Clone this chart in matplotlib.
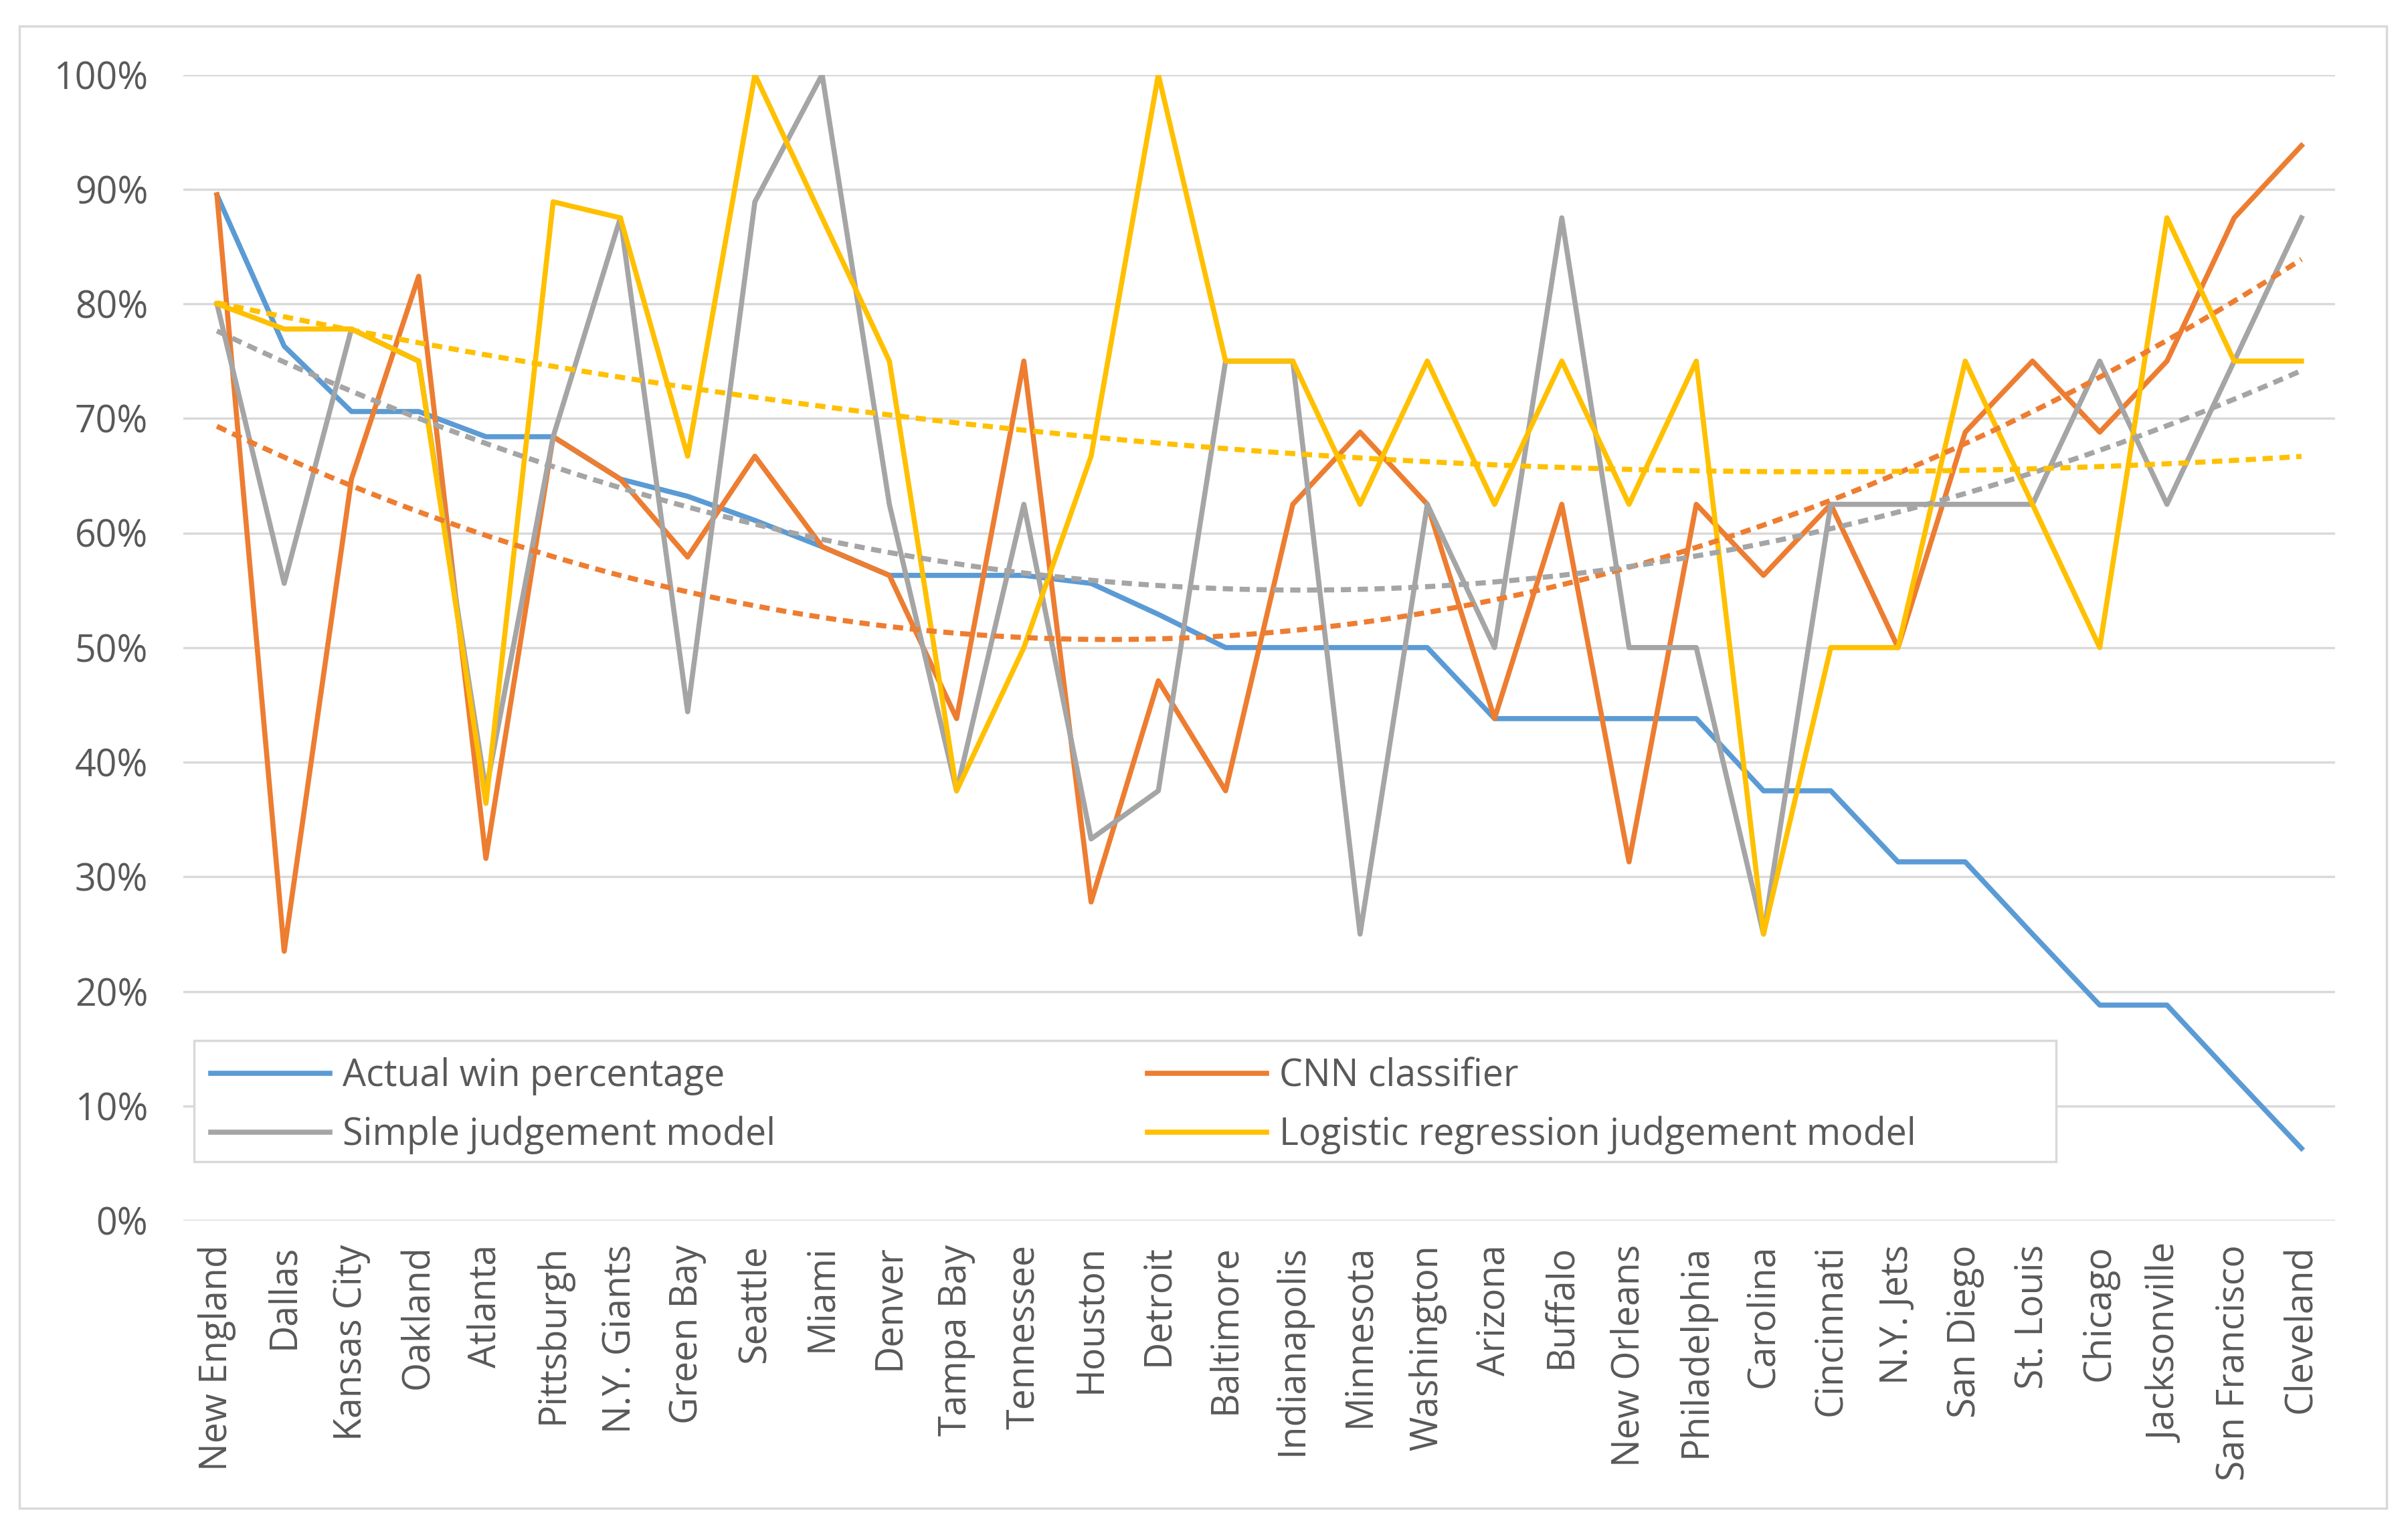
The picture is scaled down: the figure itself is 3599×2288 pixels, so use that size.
import numpy as np
import matplotlib
matplotlib.use("Agg")
import matplotlib.pyplot as plt
from matplotlib.patches import Rectangle
from matplotlib.ticker import PercentFormatter

plt.rcParams['font.family'] = ['Open Sans', 'DejaVu Sans']

teams = ['New England', 'Dallas', 'Kansas City', 'Oakland', 'Atlanta', 'Pittsburgh',
         'N.Y. Giants', 'Green Bay', 'Seattle', 'Miami', 'Denver', 'Tampa Bay',
         'Tennessee', 'Houston', 'Detroit', 'Baltimore', 'Indianapolis', 'Minnesota',
         'Washington', 'Arizona', 'Buffalo', 'New Orleans', 'Philadelphia', 'Carolina',
         'Cincinnati', 'N.Y. Jets', 'San Diego', 'St. Louis', 'Chicago', 'Jacksonville',
         'San Francisco', 'Cleveland']

# values in percent
actual = [89.5, 76.3, 70.6, 70.6, 68.4, 68.4, 64.7, 63.2, 61.1, 58.8, 56.3, 56.3,
          56.3, 55.6, 52.9, 50.0, 50.0, 50.0, 50.0, 43.8, 43.8, 43.8, 43.8, 37.5,
          37.5, 31.3, 31.3, 25.0, 18.8, 18.8, 12.5, 6.3]
cnn = [89.5, 23.5, 64.7, 82.4, 31.6, 68.4, 64.7, 57.9, 66.7, 58.8, 56.3, 43.8,
       75.0, 27.8, 47.1, 37.5, 62.5, 68.8, 62.5, 43.8, 62.5, 31.3, 62.5, 56.3,
       62.5, 50.0, 68.8, 75.0, 68.8, 75.0, 87.5, 93.8]
simple = [80.0, 55.6, 77.8, 75.0, 37.5, 68.4, 87.5, 44.4, 88.9, 100.0, 62.5, 37.5,
          62.5, 33.3, 37.5, 75.0, 75.0, 25.0, 62.5, 50.0, 87.5, 50.0, 50.0, 25.0,
          62.5, 62.5, 62.5, 62.5, 75.0, 62.5, 75.0, 87.5]
logistic = [80.0, 77.8, 77.8, 75.0, 36.4, 88.9, 87.5, 66.7, 100.0, 87.5, 75.0, 37.5,
            50.0, 66.7, 100.0, 75.0, 75.0, 62.5, 75.0, 62.5, 75.0, 62.5, 75.0, 25.0,
            50.0, 50.0, 75.0, 62.5, 50.0, 87.5, 75.0, 75.0]

BLUE = '#5B9BD5'
ORANGE = '#ED7D31'
GRAY = '#A5A5A5'
YELLOW = '#FFC000'
GRID = '#D9D9D9'
TXT = '#595959'

W, H = 3599, 2288
fig = plt.figure(figsize=(W / 100, H / 100), dpi=100)
fig.patches.append(Rectangle((29 / W, 1 - 2254 / H), (3567 - 29) / W, (2254 - 39) / H,
                             transform=fig.transFigure, fill=False, edgecolor=GRID,
                             linewidth=2.5))

ax = fig.add_axes([274 / W, 1 - 1824 / H, (3490 - 274) / W, (1824 - 111.5) / H])
x = np.arange(len(teams))

lw = 5.5
h_actual, = ax.plot(x, actual, color=BLUE, lw=lw, label='Actual win percentage', zorder=3)
h_cnn, = ax.plot(x, cnn, color=ORANGE, lw=lw, label='CNN classifier', zorder=3)
h_simple, = ax.plot(x, simple, color=GRAY, lw=lw, label='Simple judgement model', zorder=3)
h_log, = ax.plot(x, logistic, color=YELLOW, lw=lw,
                 label='Logistic regression judgement model', zorder=3)

# quadratic trendlines like Excel's polynomial trendline
xs = np.linspace(0, len(teams) - 1, 300)
for series, col in [(cnn, ORANGE), (simple, GRAY), (logistic, YELLOW)]:
    coef = np.polyfit(x, series, 2)
    ax.plot(xs, np.polyval(coef, xs), color=col, lw=lw, ls=(0, (2.0, 1.3)), zorder=4)

ax.set_xlim(-0.5, len(teams) - 0.5)
ax.set_ylim(0, 100)
ax.set_yticks(np.arange(0, 101, 10))
ax.yaxis.set_major_formatter(PercentFormatter(decimals=0))
ax.set_xticks(x)
ax.set_xticklabels(teams, rotation=90)
ax.tick_params(axis='both', length=0, labelsize=40, colors=TXT)
ax.tick_params(axis='y', pad=38)
ax.tick_params(axis='x', pad=26)
ax.grid(axis='y', color=GRID, lw=2.5)
ax.set_axisbelow(True)
for s in ax.spines.values():
    s.set_visible(False)

# legend box drawn by hand so its size matches the original
bx0, by0 = 0.005, (1824 - 1736) / 1712.5
bx1, by1 = (3073 - 274) / 3216, (1824 - 1555) / 1712.5
ax.add_patch(Rectangle((bx0, by0), bx1 - bx0, by1 - by0, transform=ax.transAxes,
                       facecolor='white', edgecolor=GRID, lw=2.5, zorder=5))
leg = ax.legend(handles=[h_actual, h_simple, h_cnn, h_log], ncol=2,
                loc='upper left', bbox_to_anchor=(bx0, by1),
                fontsize=40, frameon=False, handlelength=3.2, borderaxespad=0,
                borderpad=0.45, labelspacing=0.55, handletextpad=0.35,
                columnspacing=10.0)
leg.set_zorder(6)
for t in leg.get_texts():
    t.set_color(TXT)

fig.savefig('out.png', dpi=100)
